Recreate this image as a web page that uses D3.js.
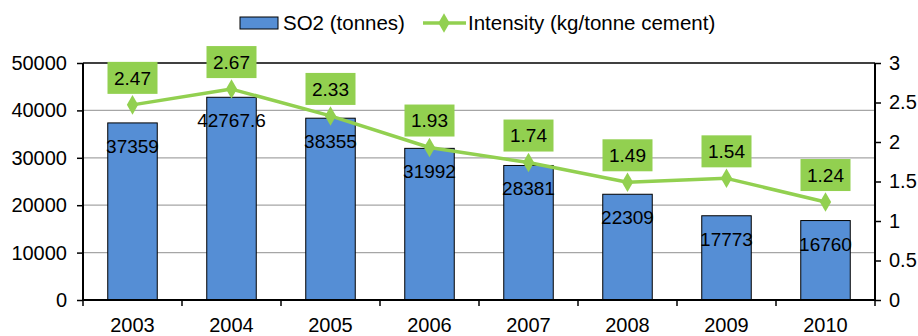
<!DOCTYPE html>
<html>
<head>
<meta charset="utf-8">
<script src="https://cdn.jsdelivr.net/npm/d3@7/dist/d3.min.js"></script>
<style>
  html, body { margin: 0; padding: 0; background: #fff; }
  svg { display: block; font-family: "Liberation Sans", Arial, Helvetica, sans-serif; }
</style>
</head>
<body>
<svg id="chart" width="918" height="336"></svg>
<script>
// SO2 emissions and intensity by year
const years = ["2003", "2004", "2005", "2006", "2007", "2008", "2009", "2010"];
const so2Tonnes = [37359, 42767.6, 38355, 31992, 28381, 22309, 17773, 16760];
const intensity = [2.47, 2.67, 2.33, 1.93, 1.74, 1.49, 1.54, 1.24];
const leftTicks = [0, 10000, 20000, 30000, 40000, 50000];
const rightTicks = [0, 0.5, 1, 1.5, 2, 2.5, 3];
const seriesNames = ["SO2 (tonnes)", "Intensity (kg/tonne cement)"];

const barColor = "#558ed5";
const lineColor = "#92d050";

const svg = d3.select("#chart");
const margin = { left: 83, right: 43, top: 63, bottom: 36 };
const W = 918, H = 336;
const x0 = margin.left, x1 = W - margin.right;
const y0 = H - margin.bottom, y1 = margin.top;

const x = d3.scaleBand().domain(years).range([x0, x1]).paddingInner(0.5).paddingOuter(0.25);
const yL = d3.scaleLinear().domain([0, 50000]).range([y0, y1]);
const yR = d3.scaleLinear().domain([0, 3]).range([y0, y1]);

// gridlines
svg.append("g").selectAll("line").data(leftTicks.filter(t => t > 0 && t < 50000)).join("line")
  .attr("x1", x0).attr("x2", x1)
  .attr("y1", d => yL(d)).attr("y2", d => yL(d))
  .attr("stroke", "#a6a6a6").attr("stroke-width", 1.2);

// top border
svg.append("line").attr("x1", x0).attr("x2", x1).attr("y1", y1).attr("y2", y1)
  .attr("stroke", "#000").attr("stroke-width", 1.5);

// bars
svg.append("g").selectAll("rect").data(years).join("rect")
  .attr("x", d => x(d))
  .attr("width", x.bandwidth())
  .attr("y", (d, i) => yL(so2Tonnes[i]))
  .attr("height", (d, i) => yL(0) - yL(so2Tonnes[i]))
  .attr("fill", barColor)
  .attr("stroke", "#000").attr("stroke-width", 1);

// bar value labels
svg.append("g").selectAll("text").data(years).join("text")
  .attr("x", d => x(d) + x.bandwidth() / 2)
  .attr("y", (d, i) => yL(so2Tonnes[i]) + 30)
  .attr("text-anchor", "middle")
  .attr("font-size", 19)
  .attr("fill", "#000")
  .text((d, i) => so2Tonnes[i]);

// axes
const axisFont = 20;
const gL = svg.append("g").attr("transform", `translate(${x0},0)`)
  .call(d3.axisLeft(yL).tickValues(leftTicks).tickFormat(d3.format("d")).tickSize(6).tickPadding(10));
const gR = svg.append("g").attr("transform", `translate(${x1},0)`)
  .call(d3.axisRight(yR).tickValues(rightTicks).tickFormat(d => String(d)).tickSize(6).tickPadding(8));
const gB = svg.append("g").attr("transform", `translate(0,${y0})`)
  .call(d3.axisBottom(x).tickSize(0).tickPadding(18));
// category boundary ticks on the bottom axis
const step = x.step();
const bounds = d3.range(years.length + 1).map(i => x0 + i * step);
svg.append("g").selectAll("line").data(bounds).join("line")
  .attr("x1", d => d).attr("x2", d => d)
  .attr("y1", y0).attr("y2", y0 + 6)
  .attr("stroke", "#000").attr("stroke-width", 1.5);

[gL, gR, gB].forEach(g => {
  g.select(".domain").attr("stroke", "#000").attr("stroke-width", 2);
  g.selectAll(".tick line").attr("stroke", "#000").attr("stroke-width", 1.5);
  g.selectAll(".tick text").attr("font-size", axisFont).attr("fill", "#000")
    .attr("font-family", "Liberation Sans, Arial, sans-serif");
});
gB.select(".domain").attr("d", `M${x0},0H${x1}`);
gL.select(".domain").attr("d", `M0,${y0}V${y1}`);
gR.select(".domain").attr("d", `M0,${y0}V${y1}`);

// intensity line
const cx = d => x(d) + x.bandwidth() / 2;
const line = d3.line().x(d => cx(d)).y((d, i) => yR(intensity[i]));
svg.append("path").datum(years)
  .attr("d", line)
  .attr("fill", "none").attr("stroke", lineColor).attr("stroke-width", 3.5)
  .attr("stroke-linejoin", "round");

const diamond = d3.symbol().type(d3.symbolDiamond).size(110);
svg.append("g").selectAll("path").data(years).join("path")
  .attr("transform", (d, i) => `translate(${cx(d)},${yR(intensity[i])})`)
  .attr("d", diamond)
  .attr("fill", lineColor);

// intensity value labels in green boxes
const lbl = svg.append("g").selectAll("g").data(years).join("g")
  .attr("transform", (d, i) => `translate(${cx(d)},${yR(intensity[i]) - 27})`);
lbl.append("rect")
  .attr("x", -25).attr("y", -16).attr("width", 50).attr("height", 32)
  .attr("fill", lineColor);
lbl.append("text")
  .attr("text-anchor", "middle").attr("dy", "0.35em")
  .attr("font-size", 19).attr("fill", "#000")
  .text((d, i) => intensity[i].toFixed(2));

// legend
const leg = svg.append("g");
leg.append("rect").attr("x", 240).attr("y", 17).attr("width", 38).attr("height", 12)
  .attr("fill", barColor).attr("stroke", "#000").attr("stroke-width", 1);
leg.append("text").attr("x", 283).attr("y", 30).attr("font-size", 20.5).text(seriesNames[0]);
leg.append("line").attr("x1", 423).attr("x2", 466).attr("y1", 23).attr("y2", 23)
  .attr("stroke", lineColor).attr("stroke-width", 3.5);
leg.append("path").attr("transform", "translate(444,23)").attr("d", diamond).attr("fill", lineColor);
leg.append("text").attr("x", 468).attr("y", 30).attr("font-size", 20.5).text(seriesNames[1]);
</script>
</body>
</html>
